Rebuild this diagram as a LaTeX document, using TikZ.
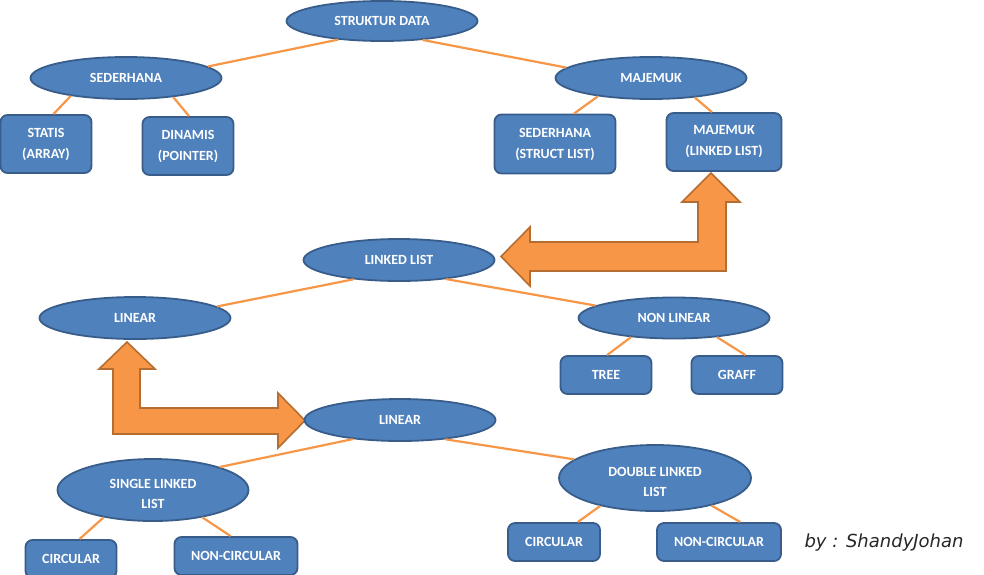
\documentclass[tikz,border=0pt]{standalone}
\usepackage{fontspec}
\setmainfont{Carlito}
\newfontfamily\tulisan{DejaVu Sans}
\usetikzlibrary{positioning,shapes.geometric}

\definecolor{biru}{HTML}{4F81BD}
\definecolor{birutua}{HTML}{385D8A}
\definecolor{oren}{HTML}{F79646}
\definecolor{orentua}{HTML}{B66D31}

\tikzset{
  elips/.style={ellipse, draw=birutua, fill=biru, line width=1.8pt,
    minimum width=191pt, minimum height=42pt, inner sep=0pt,
    text=white, font=\fontsize{14}{20}\selectfont\bfseries, align=center},
  kotak/.style={rectangle, rounded corners=7pt, draw=birutua, fill=biru,
    line width=1.8pt, minimum width=91pt, minimum height=38pt, inner sep=0pt,
    text=white, font=\fontsize{14}{21}\selectfont\bfseries, align=center},
  garis/.style={draw=oren, line width=2.2pt},
  panah/.style={fill=oren, draw=orentua, line width=1.6pt, line join=miter}
}

\begin{document}
\begin{tikzpicture}[x=1pt,y=-1pt]
  \useasboundingbox (0,0) rectangle (984,574);
  % the two big bent arrows
  \draw[panah] (711,173) -- (740,202) -- (726,202) -- (726,271) -- (530,271)
    -- (530,286) -- (501,256.5) -- (530,227) -- (530,242) -- (698,242)
    -- (698,202) -- (682,202) -- cycle;
  \draw[panah] (127,342) -- (155,369) -- (140,369) -- (140,408) -- (278,408)
    -- (278,393) -- (305,420.5) -- (278,448) -- (278,434) -- (113,434)
    -- (113,369) -- (99,369) -- cycle;
  % struktur data
  \node[elips, minimum height=40pt] (sd) at (382,21) {STRUKTUR DATA};
  \node[elips] (sed) at (126,78) {SEDERHANA};
  \node[elips] (maj) at (651,78) {MAJEMUK};
  \node[kotak, minimum height=58pt] (statis) at (46,144) {STATIS\\(ARRAY)};
  \node[kotak, minimum height=58pt] (dinamis) at (188,146) {DINAMIS\\(POINTER)};
  \node[kotak, minimum width=121pt, minimum height=59pt] (ssl) at (555,144) {SEDERHANA\\(STRUCT LIST)};
  \node[kotak, minimum width=115pt, minimum height=58pt] (mll) at (724,142) {MAJEMUK\\(LINKED LIST)};
  % linked list
  \node[elips] (ll) at (399,260) {LINKED LIST};
  \node[elips] (lin) at (135,318) {LINEAR};
  \node[elips, minimum height=41pt] (nonlin) at (674,318) {NON LINEAR};
  \node[kotak] (tree) at (606,375) {TREE};
  \node[kotak] (graff) at (737,375) {GRAFF};
  % linear
  \node[elips] (lin2) at (400,420) {LINEAR};
  \node[elips, minimum height=62pt] (sll) at (153,490) {\rule{0pt}{18pt}SINGLE LINKED\\LIST};
  \node[elips, minimum height=66pt, minimum width=192pt] (dll) at (655,478) {\rule{0pt}{18pt}DOUBLE LINKED\\LIST};
  \node[kotak] (circa) at (71,559) {CIRCULAR};
  \node[kotak, minimum width=123pt] (nonca) at (236,556) {NON-CIRCULAR};
  \node[kotak, minimum width=92pt] (circb) at (554,542) {CIRCULAR};
  \node[kotak, minimum width=124pt] (noncb) at (719,542) {NON-CIRCULAR};
  % connectors
  \foreach \a/\b in {sd.203/sed.8, sd.335/maj.173, sed.198/statis.76,
      sed.338/dinamis.88, maj.199/ssl.58, maj.336/mll.112,
      ll.203/lin.8.5, ll.338/nonlin.171, nonlin.204/tree.87,
      nonlin.336/graff.67, lin2.202/sll.19.4, lin2.337/dll.167,
      sll.209.5/circa.67, sll.331/nonca.105, dll.207/circb.40,
      dll.334/noncb.43.5} {
    \draw[garis] (\a) -- (\b);
  }
  \node[anchor=west, font=\tulisan\itshape\fontsize{18}{18}\selectfont, text=black!85] (ttd) at (801,543) {by : ShandyJohan};
\end{tikzpicture}
\end{document}
